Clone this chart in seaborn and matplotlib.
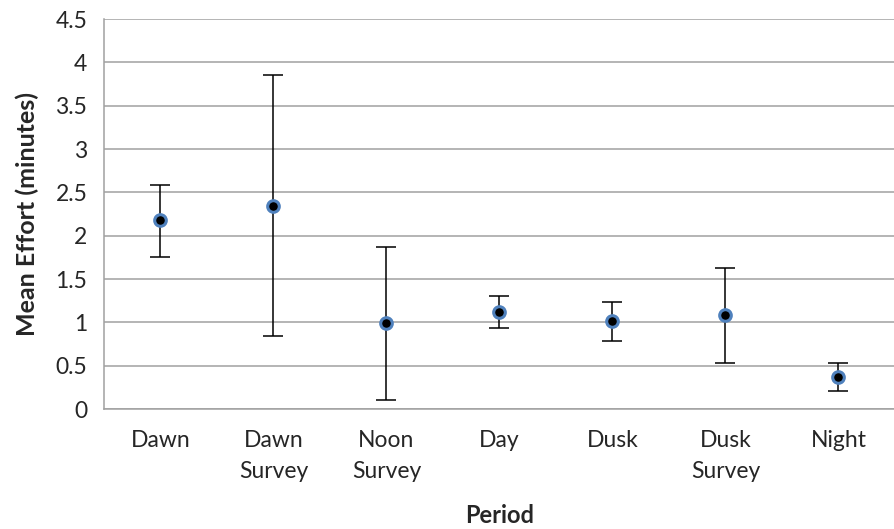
import matplotlib
matplotlib.use("Agg")
import matplotlib.pyplot as plt
import seaborn as sns
import pandas as pd
import numpy as np

periods = ["Dawn", "Dawn\nSurvey", "Noon\nSurvey", "Day", "Dusk", "Dusk\nSurvey", "Night"]
mean_effort = [2.18, 2.34, 0.99, 1.12, 1.02, 1.08, 0.37]
upper = [2.59, 3.85, 1.87, 1.30, 1.24, 1.63, 0.53]
lower = [1.75, 0.84, 0.10, 0.93, 0.78, 0.53, 0.21]

df = pd.DataFrame({"Period": periods, "Effort": mean_effort})

sns.set_style("white")
plt.rcParams["font.family"] = ["Lato", "DejaVu Sans"]

fig = plt.figure(figsize=(8.95, 5.29), dpi=100)
ax = fig.add_axes([104 / 895, 1 - 409 / 529, 1 - 104 / 895, (409 - 19) / 529])

x = np.arange(len(periods))
yerr = [np.array(mean_effort) - np.array(lower), np.array(upper) - np.array(mean_effort)]
ax.errorbar(x, mean_effort, yerr=yerr, fmt="none", ecolor="black", elinewidth=1.1,
            capsize=7, capthick=1.1, zorder=3)
sns.scatterplot(data=df, x="Period", y="Effort", ax=ax, s=70, color="black",
                edgecolor="#4f81bd", linewidth=2.2, zorder=4)

ax.set_ylim(0, 4.5)
ax.set_xlim(-0.5, 6.5 - 7 / 114)
ax.set_yticks(np.arange(0, 4.51, 0.5))
ax.set_yticklabels(["0", "0.5", "1", "1.5", "2", "2.5", "3", "3.5", "4", "4.5"])
ax.yaxis.grid(True, color="#a0a0a0", linewidth=1.1)
ax.set_axisbelow(True)

# category labels centred, tick marks at category boundaries
ax.set_xticks(x)
ax.set_xticklabels(periods, fontsize=16.5, linespacing=1.6, va="top")
ax.tick_params(axis="x", length=0, pad=15)
ax.set_xticks(np.arange(-0.5, 6.6, 1.0), minor=True)
ax.tick_params(axis="x", which="minor", length=8, color="#a0a0a0", width=1.1, direction="out")
ax.tick_params(axis="y", length=8, color="#a0a0a0", width=1.1, direction="out", labelsize=16.5, pad=4)

for s in ["top", "right"]:
    ax.spines[s].set_visible(False)
for s in ["left", "bottom"]:
    ax.spines[s].set_color("#a0a0a0")
    ax.spines[s].set_linewidth(1.1)

ax.set_xlabel("Period", fontsize=17, fontweight="bold", labelpad=16)
ax.set_ylabel("Mean Effort (minutes)", fontsize=18, fontweight="bold", labelpad=12)

fig.savefig("out.png", dpi=100)
